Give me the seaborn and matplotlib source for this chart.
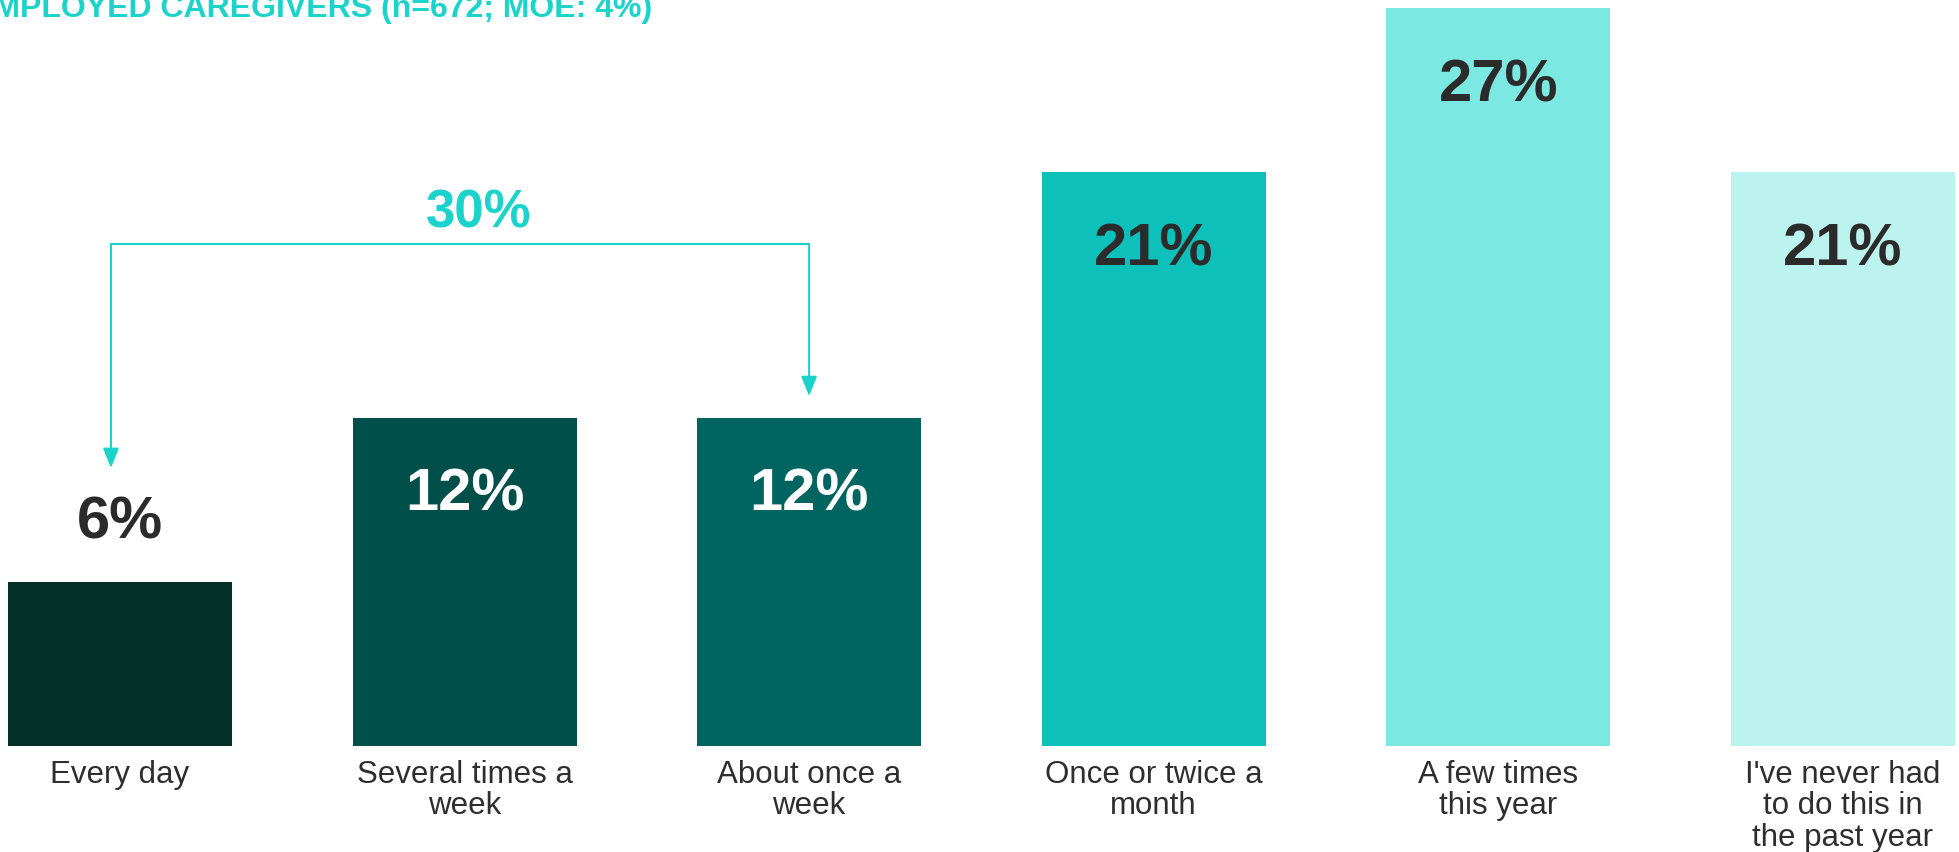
import matplotlib
matplotlib.use("Agg")
import matplotlib.pyplot as plt
import seaborn as sns
import pandas as pd

# Frequency categories and shares (%)
categories = [
    "Every day",
    "Several times a\nweek",
    "About once a\nweek",
    "Once or twice a\nmonth",
    "A few times\nthis year",
    "I've never had\nto do this in\nthe past year",
]
values = [6, 12, 12, 21, 27, 21]
value_labels = ["6%", "12%", "12%", "21%", "27%", "21%"]
bar_colors = ["#033026", "#004F4A", "#006561", "#0DC1BA", "#7CE8E2", "#BCF3EF"]
label_colors = ["#2B2B2B", "#FFFFFF", "#FFFFFF", "#2B2B2B", "#2B2B2B", "#2B2B2B"]
bracket_total = "30%"
title_text = "EMPLOYED CAREGIVERS (n=672; MOE: 4%)"

TEAL = "#1CD3CB"

sns.set_theme(style="white")
plt.rcParams["font.family"] = ["Liberation Sans", "DejaVu Sans"]

df = pd.DataFrame({"category": categories, "value": values})

W, H = 1959, 852
fig = plt.figure(figsize=(W / 100, H / 100), dpi=100)
ax = fig.add_axes([0, 106 / H, 1, 746 / H])

sns.barplot(
    data=df, x="category", y="value", hue="category",
    palette=bar_colors, width=0.65, legend=False, ax=ax,
    saturation=1, linewidth=0,
)

ax.set_xlim(-0.348, 5.337)
ax.set_ylim(0, 27.3)
ax.set_xlabel("")
ax.set_ylabel("")
ax.set_yticks([])
for s in ax.spines.values():
    s.set_visible(False)

ax.set_xticks(range(len(categories)))
ax.set_xticklabels(categories, fontsize=22.5, color="#2E2E2E", linespacing=1.07)
ax.tick_params(axis="x", length=0, pad=10)

# Value labels: inside the bar near the top, or above short bars
for i, (v, lab, c) in enumerate(zip(values, value_labels, label_colors)):
    if v < 10:
        y = v + 1.6
    else:
        y = v - 3.4
    ax.text(i, y, lab, ha="center", va="baseline", fontsize=43,
            fontweight="bold", color=c)

# Bracket grouping the first three categories
x_left, x_right = -0.026, 2.0
y_top = 18.38
ax.plot([x_left, x_right], [y_top, y_top], color=TEAL, lw=1.5,
        solid_capstyle="butt")
for x, tip in [(x_left, 10.17), (x_right, 12.8)]:
    ax.annotate(
        "", xy=(x, tip), xytext=(x, y_top),
        arrowprops=dict(arrowstyle="-|>,head_length=1.0,head_width=0.4",
                        color=TEAL, lw=1.5, shrinkA=0, shrinkB=0),
    )
ax.text(1.04, 18.99, bracket_total, ha="center", va="baseline", fontsize=38,
        fontweight="bold", color=TEAL)

# Header text running off the top-left edge
fig.text(652 / W, 1 - 17 / H, title_text, ha="right", va="baseline",
         fontsize=23, fontweight="bold", color=TEAL)

fig.savefig("out.png", dpi=100)
